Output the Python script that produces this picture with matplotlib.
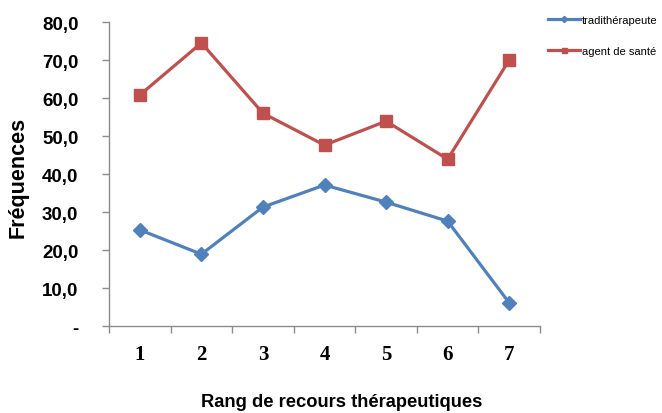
import matplotlib
matplotlib.use("Agg")
import matplotlib.pyplot as plt
from matplotlib.ticker import FixedLocator, FuncFormatter

# Rang de recours (1..7)
rangs = [1, 2, 3, 4, 5, 6, 7]
tradi = [25.3, 18.9, 31.3, 37.1, 32.6, 27.6, 6.1]
agent = [60.8, 74.5, 56.0, 47.6, 53.9, 43.9, 70.0]
y_ticks = [0, 10, 20, 30, 40, 50, 60, 70, 80]

BLUE = "#4F81BD"
RED = "#C0504D"
GREY = "#8c8c8c"

fig = plt.figure(figsize=(6.62, 4.14), dpi=100)
ax = fig.add_axes([0.1647, 0.2101, 0.651, 0.7343])

ax.plot(rangs, tradi, color=BLUE, lw=2.3, marker="D", ms=7,
        label="tradithérapeute")
ax.plot(rangs, agent, color=RED, lw=2.3, marker="s", ms=8,
        label="agent de santé")

ax.set_xlim(0.5, 7.5)
ax.set_ylim(0, 80)

# y axis : "-" for zero, comma decimals
ax.set_yticks(y_ticks)
ax.yaxis.set_major_formatter(
    FuncFormatter(lambda v, p: "-" if v == 0 else f"{v:.1f}".replace(".", ",")))
ax.tick_params(axis="y", length=5, width=1, color=GREY, pad=17,
               labelsize=13.5)
for t in ax.get_yticklabels():
    t.set_fontweight("bold")
    t.set_family("Liberation Sans")

# x axis : labels centred, ticks between categories
ax.set_xticks(rangs)
ax.xaxis.set_minor_locator(FixedLocator([r + 0.5 for r in [0] + rangs]))
ax.tick_params(axis="x", which="major", length=0, pad=13, labelsize=15)
ax.tick_params(axis="x", which="minor", length=5, width=1, color=GREY)
for t in ax.get_xticklabels():
    t.set_fontweight("bold")
    t.set_family("Liberation Serif")

for s in ["top", "right"]:
    ax.spines[s].set_visible(False)
for s in ["left", "bottom"]:
    ax.spines[s].set_color(GREY)
    ax.spines[s].set_linewidth(1)

fig.text(0.027, 0.572, "Fréquences", rotation=90, ha="center", va="center",
         fontsize=15.5, fontweight="bold", family="Liberation Sans")
fig.text(0.516, 0.028, "Rang de recours thérapeutiques", ha="center",
         va="center", fontsize=13.2, fontweight="bold",
         family="Liberation Sans")

fig.legend(loc="upper left", bbox_to_anchor=(0.813, 0.985), frameon=False,
           handlelength=2.9, handletextpad=0.15,
           labelspacing=1.9, markerscale=0.45,
           prop={"family": "Liberation Sans", "size": 8})

fig.savefig("out.png", dpi=100)
